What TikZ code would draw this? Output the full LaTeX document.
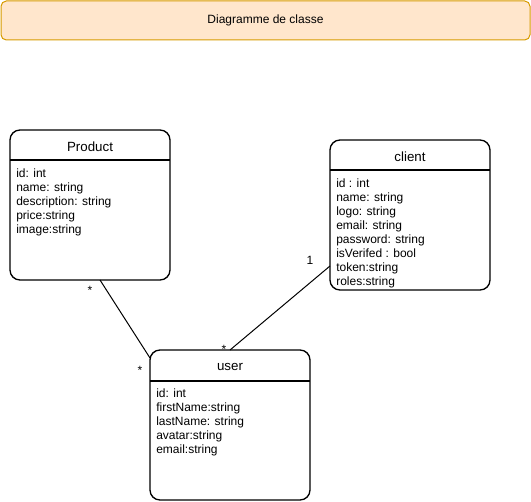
\documentclass[tikz,border=0pt]{standalone}
\usepackage{fontspec}
\setmainfont{Liberation Sans}
\definecolor{titlefill}{HTML}{FFE6CC}
\definecolor{titledraw}{HTML}{D79B00}
\begin{document}
\begin{tikzpicture}[x=0.75pt,y=-0.75pt,
  classbox/.style={draw=black,line width=1pt,rounded corners=7.5pt,minimum width=120pt,minimum height=112.5pt,inner sep=0pt},
  headtext/.style={font=\fontsize{10}{12}\selectfont,inner sep=0pt},
  attrtext/.style={font=\fontsize{9}{10.5}\selectfont,align=left,anchor=north west,inner sep=0pt},
  mult/.style={font=\fontsize{9}{10.5}\selectfont,inner sep=0pt},
  link/.style={draw=black,line width=0.75pt}]
\useasboundingbox (0,0) rectangle (531,502);
\node[draw=titledraw,fill=titlefill,line width=0.75pt,rounded corners=4pt,minimum width=396.75pt,minimum height=29.25pt,inner sep=0pt,font=\fontsize{9}{10.5}\selectfont] (title) at (265.5,20.5) {Diagramme de classe};
% Product
\node[classbox] (product) at (90,205) {};
\draw[line width=1pt] (10,160) -- (170,160);
\node[headtext] (producth) at (90,147) {Product};
\node[attrtext] (producta) at (16,169) {id: int\\name: string\\description: string\\price:string\\image:string};
% client
\node[classbox] (client) at (410,215) {};
\draw[line width=1pt] (330,170) -- (490,170);
\node[headtext] (clienth) at (410,157) {client};
\node[attrtext] (clienta) at (336,179) {id : int\\name: string\\logo: string\\email: string\\password: string\\isVerifed : bool\\token:string\\roles:string};
% user
\node[classbox] (user) at (230,425) {};
\draw[line width=1pt] (150,381) -- (310,381);
\node[headtext] (userh) at (230,367) {user};
\node[attrtext] (usera) at (156,389) {id: int\\firstName:string\\lastName: string\\avatar:string\\email:string};
% connectors
\coordinate (p1) at (100,280);
\coordinate (u1) at (150,358);
\coordinate (c1) at (330,266);
\coordinate (u2) at (230,350);
\draw[link] (p1) -- (u1);
\draw[link] (c1) -- (u2);
\node[mult] (m1) at (90,290) {*};
\node[mult] (m2) at (140,370) {*};
\node[mult] (m3) at (310,260) {1};
\node[mult] (m4) at (224,349) {*};
\end{tikzpicture}
\end{document}
